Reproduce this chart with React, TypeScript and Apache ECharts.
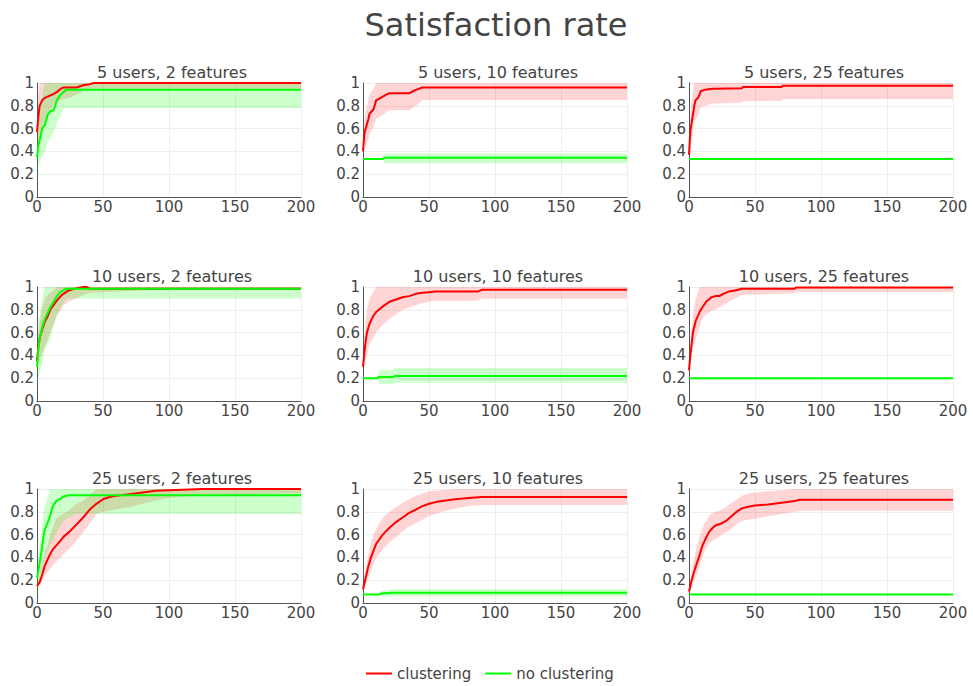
import React, { useEffect, useRef } from "react";
import * as echarts from "echarts";

const MAIN_TITLE = "Satisfaction rate";
const PANEL_TITLES = [
  "5 users, 2 features", "5 users, 10 features", "5 users, 25 features",
  "10 users, 2 features", "10 users, 10 features", "10 users, 25 features",
  "25 users, 2 features", "25 users, 10 features", "25 users, 25 features",
];
const X_TICKS = [0, 50, 100, 150, 200];
const Y_TICKS = [0, 0.2, 0.4, 0.6, 0.8, 1];

// Panel 1: 5 users, 2 features
const p1RedX = [0, 1, 2, 4, 6, 8, 10, 12, 15, 18, 20, 25, 30, 35, 40, 43, 50, 100, 200];
const p1RedMean = [0.57, 0.7, 0.8, 0.85, 0.87, 0.88, 0.89, 0.9, 0.92, 0.95, 0.96, 0.96, 0.96, 0.98, 0.99, 1, 1, 1, 1];
const p1RedLo = [0.45, 0.5, 0.55, 0.6, 0.65, 0.7, 0.75, 0.8, 0.83, 0.85, 0.86, 0.87, 0.9, 0.93, 0.95, 0.95, 0.95, 0.95, 0.95];
const p1RedHi = [0.7, 0.9, 1, 1, 1, 1, 1, 1, 1, 1, 1, 1, 1, 1, 1, 1, 1, 1, 1];
const p1GreenX = [0, 1, 2, 3, 4, 5, 6, 8, 10, 12, 13, 15, 18, 20, 22, 25, 50, 100, 200];
const p1GreenMean = [0.35, 0.45, 0.5, 0.55, 0.6, 0.62, 0.63, 0.72, 0.75, 0.76, 0.77, 0.85, 0.9, 0.92, 0.94, 0.94, 0.94, 0.94, 0.94];
const p1GreenLo = [0.22, 0.27, 0.3, 0.33, 0.35, 0.38, 0.4, 0.48, 0.52, 0.55, 0.58, 0.65, 0.72, 0.77, 0.78, 0.78, 0.78, 0.78, 0.78];
const p1GreenHi = [0.45, 0.6, 0.7, 0.8, 0.9, 0.95, 1, 1, 1, 1, 1, 1, 1, 1, 1, 1, 1, 1, 1];

// Panel 2: 5 users, 10 features
const p2RedX = [0, 1, 2, 4, 5, 8, 10, 12, 15, 18, 20, 30, 35, 40, 45, 50, 100, 200];
const p2RedMean = [0.4, 0.55, 0.6, 0.68, 0.73, 0.77, 0.85, 0.86, 0.88, 0.9, 0.91, 0.91, 0.91, 0.94, 0.96, 0.96, 0.96, 0.96];
const p2RedLo = [0.35, 0.42, 0.45, 0.5, 0.55, 0.62, 0.69, 0.7, 0.72, 0.75, 0.76, 0.76, 0.76, 0.8, 0.85, 0.85, 0.85, 0.85];
const p2RedHi = [0.45, 0.65, 0.75, 0.85, 0.9, 0.95, 1, 1, 1, 1, 1, 1, 1, 1, 1, 1, 1, 1];
const p2GreenX = [0, 15, 16, 200];
const p2GreenMean = [0.333, 0.333, 0.345, 0.345];
const p2GreenLo = [0.333, 0.333, 0.295, 0.295];
const p2GreenHi = [0.333, 0.333, 0.38, 0.38];

// Panel 3: 5 users, 25 features
const p3RedX = [0, 1, 2, 4, 5, 7, 9, 12, 15, 18, 20, 40, 41, 70, 71, 200];
const p3RedMean = [0.37, 0.58, 0.65, 0.8, 0.85, 0.87, 0.93, 0.94, 0.945, 0.95, 0.95, 0.955, 0.965, 0.965, 0.975, 0.975];
const p3RedLo = [0.3, 0.42, 0.5, 0.66, 0.68, 0.72, 0.79, 0.8, 0.81, 0.82, 0.82, 0.83, 0.84, 0.845, 0.86, 0.86];
const p3RedHi = [0.45, 0.7, 0.85, 1, 1, 1, 1, 1, 1, 1, 1, 1, 1, 1, 1, 1];
const p3GreenX = [0, 200];
const p3GreenMean = [0.333, 0.333];
const p3GreenLo = [0.333, 0.333];
const p3GreenHi = [0.333, 0.333];

// Panel 4: 10 users, 2 features
const p4RedX = [0, 1, 2, 4, 6, 8, 10, 13, 15, 18, 20, 24, 30, 35, 38, 40, 100, 200];
const p4RedMean = [0.35, 0.48, 0.55, 0.63, 0.7, 0.74, 0.8, 0.85, 0.88, 0.92, 0.94, 0.97, 0.99, 1, 1, 0.985, 0.985, 0.985];
const p4RedLo = [0.25, 0.3, 0.35, 0.42, 0.48, 0.53, 0.6, 0.68, 0.75, 0.8, 0.84, 0.87, 0.9, 0.93, 0.94, 0.95, 0.98, 0.98];
const p4RedHi = [0.45, 0.6, 0.7, 0.82, 0.9, 0.93, 0.95, 0.98, 1, 1, 1, 1, 1, 1, 1, 1, 1, 1];
const p4GreenX = [0, 1, 2, 4, 6, 8, 10, 13, 15, 18, 20, 22, 25, 200];
const p4GreenMean = [0.3, 0.45, 0.55, 0.65, 0.72, 0.77, 0.82, 0.88, 0.92, 0.96, 0.97, 0.985, 0.985, 0.985];
const p4GreenLo = [0.12, 0.2, 0.25, 0.35, 0.45, 0.5, 0.55, 0.68, 0.75, 0.82, 0.86, 0.89, 0.9, 0.9];
const p4GreenHi = [0.5, 0.65, 0.75, 0.9, 1, 1, 1, 1, 1, 1, 1, 1, 1, 1];

// Panel 5: 10 users, 10 features
const p5RedX = [0, 1, 2, 3, 5, 8, 10, 15, 20, 25, 30, 35, 40, 45, 50, 55, 87, 90, 200];
const p5RedMean = [0.3, 0.42, 0.52, 0.6, 0.68, 0.75, 0.78, 0.83, 0.87, 0.89, 0.91, 0.92, 0.94, 0.95, 0.955, 0.96, 0.96, 0.975, 0.975];
const p5RedLo = [0.25, 0.3, 0.35, 0.4, 0.5, 0.56, 0.6, 0.67, 0.72, 0.76, 0.8, 0.82, 0.84, 0.86, 0.87, 0.88, 0.88, 0.9, 0.9];
const p5RedHi = [0.35, 0.55, 0.7, 0.8, 0.9, 0.96, 1, 1, 1, 1, 1, 1, 1, 1, 1, 1, 1, 1, 1];
const p5GreenX = [0, 11, 12, 23, 24, 200];
const p5GreenMean = [0.2, 0.2, 0.21, 0.21, 0.22, 0.22];
const p5GreenLo = [0.2, 0.2, 0.15, 0.15, 0.16, 0.16];
const p5GreenHi = [0.2, 0.2, 0.27, 0.27, 0.29, 0.29];

// Panel 6: 10 users, 25 features
const p6RedX = [0, 1, 2, 3, 5, 8, 10, 13, 17, 20, 23, 26, 30, 35, 40, 80, 81, 200];
const p6RedMean = [0.27, 0.4, 0.5, 0.6, 0.7, 0.78, 0.82, 0.87, 0.91, 0.92, 0.92, 0.94, 0.96, 0.97, 0.985, 0.985, 0.995, 0.995];
const p6RedLo = [0.22, 0.3, 0.4, 0.45, 0.55, 0.65, 0.72, 0.76, 0.79, 0.8, 0.82, 0.84, 0.87, 0.9, 0.93, 0.945, 0.955, 0.955];
const p6RedHi = [0.33, 0.5, 0.65, 0.75, 0.9, 1, 1, 1, 1, 1, 1, 1, 1, 1, 1, 1, 1, 1];
const p6GreenX = [0, 200];
const p6GreenMean = [0.2, 0.2];
const p6GreenLo = [0.2, 0.2];
const p6GreenHi = [0.2, 0.2];

// Panel 7: 25 users, 2 features
const p7RedX = [0, 2, 4, 6, 8, 10, 12, 15, 18, 20, 25, 30, 35, 40, 45, 50, 55, 60, 70, 80, 90, 100, 125, 200];
const p7RedMean = [0.15, 0.18, 0.25, 0.33, 0.38, 0.43, 0.47, 0.51, 0.55, 0.58, 0.63, 0.69, 0.75, 0.82, 0.87, 0.91, 0.93, 0.94, 0.955, 0.97, 0.985, 0.99, 1, 1];
const p7RedLo = [0.13, 0.16, 0.2, 0.24, 0.27, 0.3, 0.33, 0.37, 0.4, 0.43, 0.48, 0.55, 0.62, 0.7, 0.78, 0.8, 0.81, 0.82, 0.84, 0.87, 0.9, 0.92, 0.95, 0.96];
const p7RedHi = [0.2, 0.25, 0.35, 0.45, 0.5, 0.6, 0.66, 0.75, 0.77, 0.78, 0.82, 0.87, 0.9, 0.95, 1, 1, 1, 1, 1, 1, 1, 1, 1, 1];
const p7GreenX = [0, 1, 2, 4, 5, 6, 8, 10, 12, 15, 18, 20, 24, 30, 200];
const p7GreenMean = [0.22, 0.28, 0.35, 0.5, 0.59, 0.65, 0.7, 0.77, 0.85, 0.9, 0.915, 0.935, 0.945, 0.945, 0.945];
const p7GreenLo = [0.05, 0.12, 0.2, 0.3, 0.35, 0.4, 0.45, 0.5, 0.55, 0.62, 0.68, 0.72, 0.75, 0.78, 0.78];
const p7GreenHi = [0.3, 0.4, 0.5, 0.7, 0.8, 0.85, 0.92, 1, 1, 1, 1, 1, 1, 1, 1];

// Panel 8: 25 users, 10 features
const p8RedX = [0, 2, 4, 6, 8, 10, 15, 20, 25, 30, 35, 40, 45, 50, 55, 60, 70, 80, 90, 200];
const p8RedMean = [0.12, 0.22, 0.32, 0.4, 0.46, 0.52, 0.6, 0.66, 0.71, 0.75, 0.79, 0.82, 0.85, 0.87, 0.885, 0.895, 0.91, 0.92, 0.93, 0.93];
const p8RedLo = [0.1, 0.16, 0.22, 0.28, 0.34, 0.4, 0.47, 0.53, 0.58, 0.63, 0.67, 0.7, 0.73, 0.76, 0.78, 0.8, 0.83, 0.85, 0.86, 0.86];
const p8RedHi = [0.15, 0.3, 0.42, 0.52, 0.6, 0.65, 0.75, 0.8, 0.84, 0.88, 0.91, 0.94, 0.96, 0.98, 0.985, 0.99, 1, 1, 1, 1];
const p8GreenX = [0, 13, 14, 20, 21, 200];
const p8GreenMean = [0.075, 0.075, 0.085, 0.085, 0.09, 0.09];
const p8GreenLo = [0.075, 0.075, 0.06, 0.06, 0.06, 0.06];
const p8GreenHi = [0.075, 0.075, 0.11, 0.11, 0.12, 0.12];

// Panel 9: 25 users, 25 features
const p9RedX = [0, 2, 4, 6, 8, 10, 12, 15, 18, 20, 25, 28, 30, 35, 40, 45, 50, 60, 70, 80, 84, 200];
const p9RedMean = [0.1, 0.2, 0.28, 0.35, 0.42, 0.5, 0.55, 0.62, 0.66, 0.68, 0.7, 0.72, 0.74, 0.79, 0.83, 0.845, 0.855, 0.865, 0.88, 0.895, 0.905, 0.905];
const p9RedLo = [0.08, 0.14, 0.2, 0.25, 0.32, 0.4, 0.46, 0.52, 0.55, 0.56, 0.6, 0.62, 0.63, 0.68, 0.72, 0.73, 0.74, 0.76, 0.78, 0.8, 0.81, 0.81];
const p9RedHi = [0.13, 0.28, 0.4, 0.5, 0.58, 0.65, 0.7, 0.76, 0.79, 0.8, 0.82, 0.84, 0.86, 0.9, 0.94, 0.96, 0.97, 0.98, 0.99, 1, 1, 1];
const p9GreenX = [0, 200];
const p9GreenMean = [0.075, 0.075];
const p9GreenLo = [0.075, 0.075];
const p9GreenHi = [0.075, 0.075];

const PANELS = [
  { red: [p1RedX, p1RedMean, p1RedLo, p1RedHi], green: [p1GreenX, p1GreenMean, p1GreenLo, p1GreenHi] },
  { red: [p2RedX, p2RedMean, p2RedLo, p2RedHi], green: [p2GreenX, p2GreenMean, p2GreenLo, p2GreenHi] },
  { red: [p3RedX, p3RedMean, p3RedLo, p3RedHi], green: [p3GreenX, p3GreenMean, p3GreenLo, p3GreenHi] },
  { red: [p4RedX, p4RedMean, p4RedLo, p4RedHi], green: [p4GreenX, p4GreenMean, p4GreenLo, p4GreenHi] },
  { red: [p5RedX, p5RedMean, p5RedLo, p5RedHi], green: [p5GreenX, p5GreenMean, p5GreenLo, p5GreenHi] },
  { red: [p6RedX, p6RedMean, p6RedLo, p6RedHi], green: [p6GreenX, p6GreenMean, p6GreenLo, p6GreenHi] },
  { red: [p7RedX, p7RedMean, p7RedLo, p7RedHi], green: [p7GreenX, p7GreenMean, p7GreenLo, p7GreenHi] },
  { red: [p8RedX, p8RedMean, p8RedLo, p8RedHi], green: [p8GreenX, p8GreenMean, p8GreenLo, p8GreenHi] },
  { red: [p9RedX, p9RedMean, p9RedLo, p9RedHi], green: [p9GreenX, p9GreenMean, p9GreenLo, p9GreenHi] },
];

const FONT = "'DejaVu Sans', Verdana, sans-serif";
const TEXT = "#444";
const COL_LEFT = [37, 363, 689];
const ROW_TOP = [83, 287, 489];
const GRID_W = 264;
const GRID_H = 114;

const RED = "#ff0000";
const GREEN = "#00ff00";
const RED_BAND = "rgba(255,0,0,0.17)";
const GREEN_BAND = "rgba(0,255,0,0.2)";

function bandSeries(xs: number[], lo: number[], hi: number[], gi: number, color: string, name: string) {
  const pts = xs.map((x, i) => [x, lo[i], hi[i]]);
  return {
    type: "custom",
    name,
    xAxisIndex: gi,
    yAxisIndex: gi,
    silent: true,
    z: 1,
    data: pts,
    encode: { x: 0, y: [1, 2] },
    renderItem: (params: any, api: any) => {
      if (params.dataIndex !== 0) return null;
      const upper = pts.map((p) => api.coord([p[0], p[2]]));
      const lower = pts.map((p) => api.coord([p[0], p[1]])).reverse();
      return {
        type: "polygon",
        shape: { points: upper.concat(lower) },
        style: { fill: color, stroke: "none" },
      };
    },
  };
}

function lineSeries(xs: number[], ys: number[], gi: number, color: string, name: string, z: number) {
  return {
    type: "line",
    name,
    xAxisIndex: gi,
    yAxisIndex: gi,
    symbol: "none",
    z,
    lineStyle: { color, width: 2 },
    itemStyle: { color },
    data: xs.map((x, i) => [x, ys[i]]),
  };
}

export default function App() {
  const ref = useRef<HTMLDivElement>(null);
  useEffect(() => {
    if (!ref.current) return;
    const chart = echarts.init(ref.current, null, { renderer: "svg" });
    const grids: any[] = [];
    const xAxes: any[] = [];
    const yAxes: any[] = [];
    const titles: any[] = [
      {
        text: MAIN_TITLE,
        left: 491,
        textAlign: "center",
        top: 4,
        textStyle: { fontFamily: FONT, fontSize: 32, fontWeight: "normal", color: TEXT },
      },
    ];
    const series: any[] = [];
    PANELS.forEach((p, gi) => {
      const r = Math.floor(gi / 3);
      const c = gi % 3;
      grids.push({ left: COL_LEFT[c], top: ROW_TOP[r], width: GRID_W, height: GRID_H });
      titles.push({
        text: PANEL_TITLES[gi],
        left: COL_LEFT[c] + GRID_W / 2 - 2,
        textAlign: "center",
        top: ROW_TOP[r] - 24,
        textStyle: { fontFamily: FONT, fontSize: 16, fontWeight: "normal", color: TEXT },
      });
      xAxes.push({
        type: "value",
        gridIndex: gi,
        min: X_TICKS[0],
        max: X_TICKS[X_TICKS.length - 1],
        interval: X_TICKS[1] - X_TICKS[0],
        axisLine: { show: true, lineStyle: { color: "#555", width: 1 } },
        axisTick: { show: false },
        axisLabel: { color: TEXT, fontFamily: FONT, fontSize: 15, margin: 3, lineHeight: 13 },
        splitLine: { show: true, lineStyle: { color: "#eee", width: 1 } },
      });
      yAxes.push({
        type: "value",
        gridIndex: gi,
        min: Y_TICKS[0],
        max: Y_TICKS[Y_TICKS.length - 1],
        interval: Y_TICKS[1] - Y_TICKS[0],
        axisLine: { show: true, lineStyle: { color: "#555", width: 1 } },
        axisTick: { show: false },
        axisLabel: { color: TEXT, fontFamily: FONT, fontSize: 15, margin: 3, lineHeight: 13 },
        splitLine: { show: true, lineStyle: { color: "#eee", width: 1 } },
      });
      const [rx, rm, rl, rh] = p.red;
      const [gx, gm, gl, gh] = p.green;
      series.push(bandSeries(rx, rl, rh, gi, RED_BAND, "clustering band"));
      series.push(bandSeries(gx, gl, gh, gi, GREEN_BAND, "no clustering band"));
      series.push(lineSeries(rx, rm, gi, RED, "clustering", 3));
      series.push(lineSeries(gx, gm, gi, GREEN, "no clustering", 4));
    });
    chart.setOption({
      animation: false,
      backgroundColor: "#fff",
      textStyle: { fontFamily: FONT },
      title: titles,
      grid: grids,
      xAxis: xAxes,
      yAxis: yAxes,
      legend: {
        data: ["clustering", "no clustering"],
        icon: "rect",
        left: 361,
        top: 661,
        itemWidth: 26,
        itemHeight: 2,
        itemGap: 14,
        textStyle: { fontFamily: FONT, fontSize: 15, color: TEXT },
      },
      series,
    });
    return () => chart.dispose();
  }, []);
  return <div ref={ref} style={{ position: "absolute", left: 0, top: 0, width: 973, height: 686 }} />;
}
